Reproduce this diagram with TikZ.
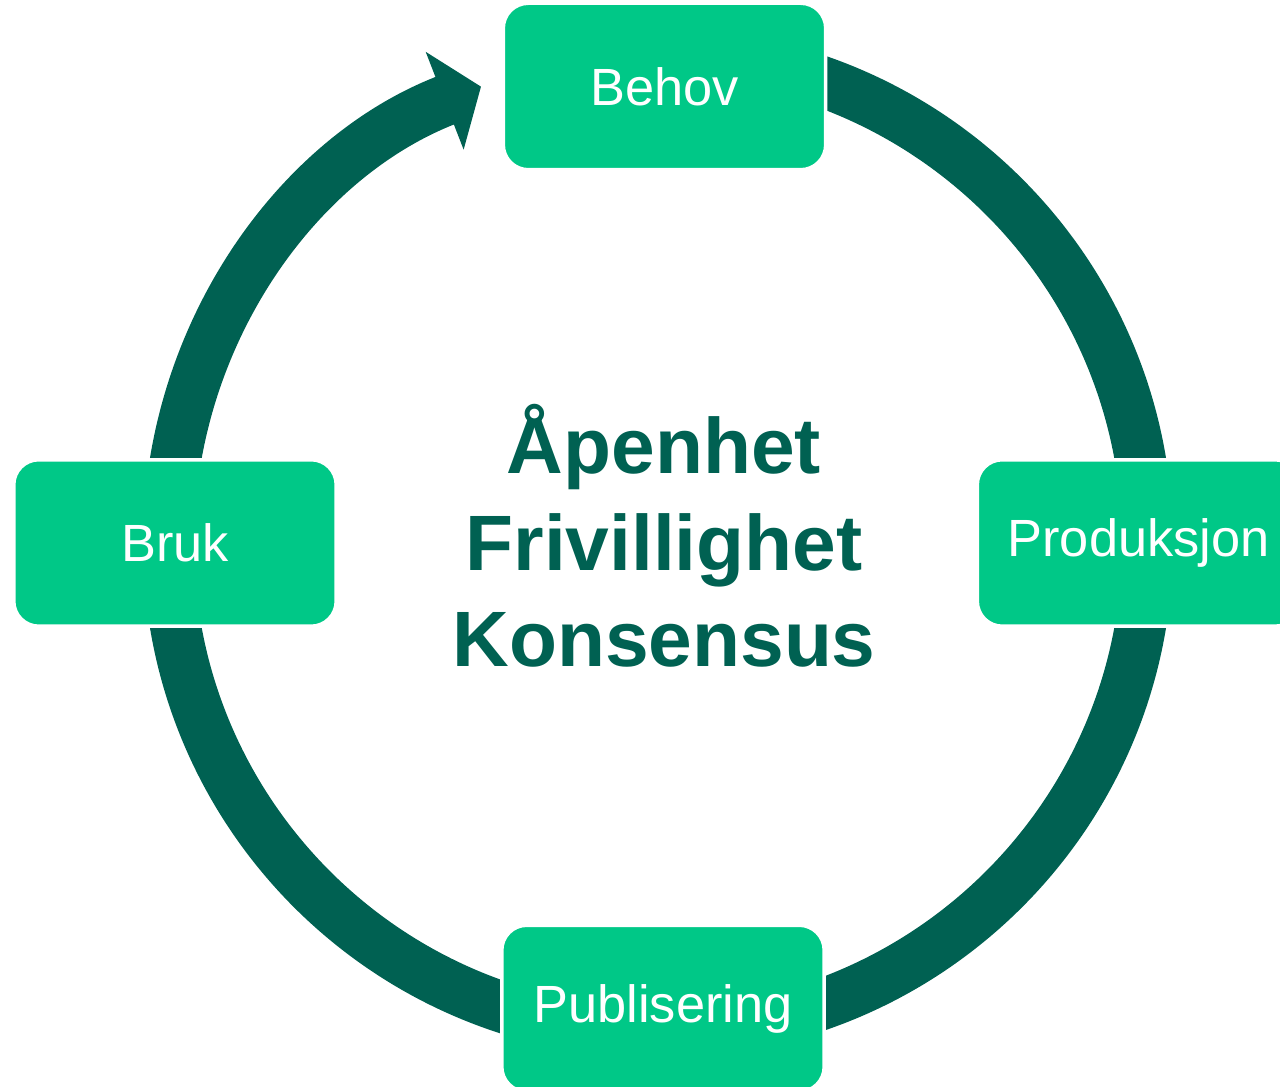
\documentclass[tikz,border=0pt]{standalone}
\usepackage{fontspec}
\setmainfont{Liberation Sans}
\usetikzlibrary{arrows.meta}
\definecolor{ringgreen}{RGB}{0,97,82}
\definecolor{boxgreen}{RGB}{0,200,135}

\begin{document}
\begin{tikzpicture}[x=0.02cm,y=0.02cm,
        stage/.style={draw=white,line width=0.07cm,fill=boxgreen,rounded corners=0.5cm,
            minimum width=6.45cm,minimum height=3.33cm,inner sep=0pt,
            text=white,font=\fontsize{29.8}{34}\selectfont},
        band/.style={draw=ringgreen,line width=1.02cm}]
    \useasboundingbox (0,0) rectangle (1280,1087);
    \coordinate (ring) at (658,544);

    % the cycle, drawn first so that the boxes cover it
    \draw[band] (ring) ++(90:489.5) arc[start angle=90,end angle=-180,radius=489.5];
    \draw[band,-{Triangle[length=0.78cm,width=2.06cm]}]
        (ring) ++(180:489.5) arc[start angle=180,end angle=111.2,radius=489.5];

    \node[stage] (behov) at (664.5,1000.5) {Behov};
    \node[stage] (prod) at (1138.5,544) {Produksjon};
    \node[stage] (publ) at (663,78.5) {Publisering};
    \node[stage] (bruk) at (175,544) {Bruk};

    \node[text=ringgreen,font=\bfseries\fontsize{44.7}{55}\selectfont,align=center]
        (values) at (664,551) {Åpenhet\\Frivillighet\\Konsensus};
\end{tikzpicture}
\end{document}
